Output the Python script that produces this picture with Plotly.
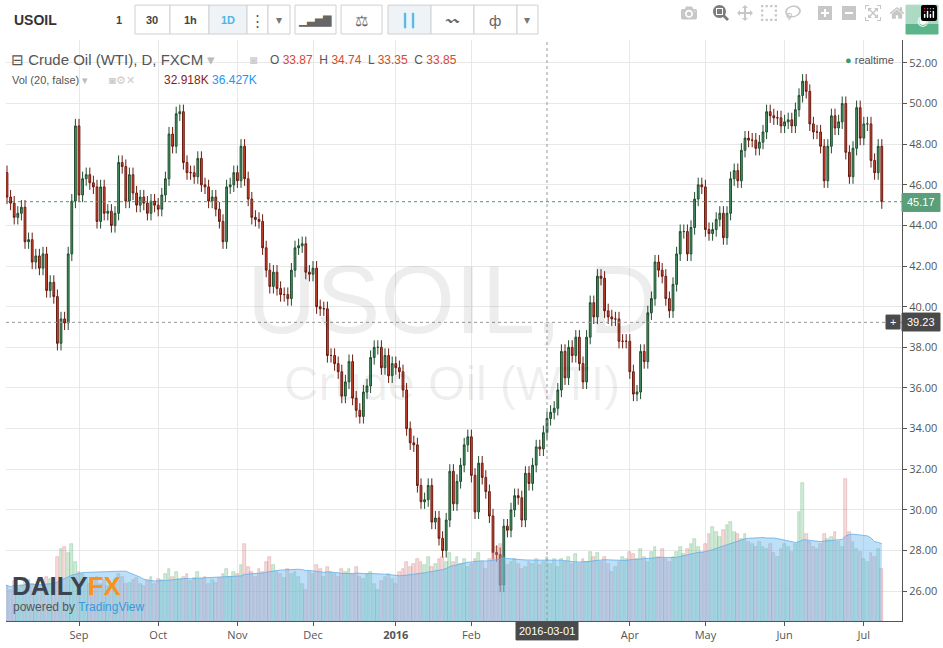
import pandas as pd
import plotly.graph_objects as go

closes = [
46.6,45.4,45.1,44.4,44.6, 44.9,43.2,43.3,42.2,42.5, 41.9,42.6,40.8,41.2,40.5, 38.2,39.4,39.2,42.6,45.2,
48.9,45.5,46.3,46.5,46.1, 45.9,44.2,45.9,44.6,44.7, 44.0,44.6,47.1,46.9,45.2, 46.5,45.6,45.0,45.4,45.1,
44.6,45.2,45.0,44.8,45.5, 46.3,48.5,47.9,49.5,49.6, 47.1,46.6,46.6,46.4,47.3, 46.0,45.9,45.2,45.4,44.8,
44.2,43.2,45.9,46.0,46.6, 46.2,47.9,46.3,45.3,44.4, 44.3,44.2,42.9,41.8,41.0, 41.7,40.9,40.6,40.6,40.4,
41.8,42.9,43.0,43.1,41.7, 41.6,41.9,40.0,39.9,39.9, 37.6,37.6,37.2,36.8,35.6, 36.3,37.3,35.5,34.9,34.6,
35.8,36.1,37.5,38.0,38.0, 37.0,37.6,36.6,37.2,37.0, 36.8,35.9,34.0,33.3,33.2, 31.2,30.4,30.5,31.2,29.4,
29.6,28.6,28.0,29.5,31.9, 30.3,31.4,32.2,33.2,33.6, 31.7,29.9,32.3,31.6,30.9, 29.7,27.9,27.8,26.3,29.2,
29.0,30.0,30.7,30.6,29.5, 31.8,31.3,32.2,33.1,33.0, 33.8,34.5,34.8,35.0,35.9, 37.8,36.5,38.0,37.6,38.5,
37.2,36.3,38.5,40.2,39.5, 41.5,41.4,39.8,39.5,39.4, 39.4,38.3,38.3,38.3,36.8, 35.7,35.8,37.8,37.3,39.7,
40.4,42.2,41.8,41.5,40.4, 39.8,41.1,42.6,43.7,43.7, 42.6,43.9,45.3,46.0,45.9, 43.8,43.6,43.8,44.3,44.6,
43.4,44.6,46.3,46.7,46.2, 47.7,48.3,48.2,48.2,47.8, 48.1,48.6,49.6,49.4,49.3, 49.3,48.9,49.1,49.2,48.9,
49.7,50.4,51.1,50.6,49.0, 48.6,48.6,47.9,46.2,47.9, 49.4,48.8,49.1,50.0,47.6, 46.4,47.8,49.8,48.3,49.0,
49.0,47.2,46.6,47.9,45.17]
volumes = [
30,28,25,32,27, 29,35,33,30,26, 28,30,36,34,31, 52,58,60,55,62, 48,40,38,35,30, 32,36,30,33,28,
30,34,38,36,30, 31,33,35,30,28, 32,36,30,34,33, 38,42,36,40,34, 36,38,32,35,40, 34,36,30,33,31,
35,38,42,36,40, 38,45,62,44,40, 36,42,40,48,52, 45,40,38,35,42, 38,40,36,30,25, 40,38,45,42,36,
44,40,38,36,42, 40,42,38,44,36, 34,38,40,30,25, 32,36,38,34,30, 40,42,48,44,46, 50,48,45,52,44,
46,50,52,48,55, 48,52,46,50,44, 46,50,55,48,42, 50,56,60,62,52, 45,48,50,46,42, 44,48,46,50,45,
48,52,46,50,44, 50,48,52,46,54, 46,50,48,56,52, 55,48,52,46,40, 44,48,52,50,56, 54,50,58,52,48,
56,60,52,58,50, 48,52,56,60,54, 58,62,66,60,56, 62,70,76,72,68, 74,78,80,72,70, 66,70,64,62,60,
64,60,58,62,55, 52,58,62,60,56, 62,88,112,70,64, 60,58,62,70,66, 68,72,64,60,115, 72,64,58,56,50,
48,55,52,58,42]
n = len(closes)
dates = pd.bdate_range("2015-08-03", periods=n)
opens = [45.9] + closes[:-1]
wick = 0.35
highs = [max(o, c) + wick for o, c in zip(opens, closes)]
lows = [min(o, c) - wick for o, c in zip(opens, closes)]
idx = list(range(n))
vol_ma = pd.Series(volumes).rolling(20, min_periods=1).mean()

month_labels = ["Sep", "Oct", "Nov", "Dec", "<b>2016</b>", "Feb", "Apr", "May", "Jun", "Jul"]
month_ticks, month_text = [0], ["Aug"]
li = 0
for i in range(1, n):
    if dates[i].month != dates[i - 1].month:
        if dates[i].month == 3:
            mar_idx = i
            continue
        month_ticks.append(i); month_text.append(month_labels[li]); li += 1

L, R, T, B, W, H = 6, 902, 40, 623, 943, 648
ppb = 3.6
x0 = mar_idx - (547 - L) / ppb
x1 = x0 + (R - L) / ppb
def px(x): return (x - L) / (R - L)
def py(y): return (B - y) / (B - T)

fig = go.Figure()
up = [c >= o for o, c in zip(opens, closes)]
fig.add_trace(go.Bar(x=idx, y=volumes, yaxis="y2", width=0.8,
    marker=dict(color=["rgba(120,200,140,0.35)" if u else "rgba(230,150,150,0.35)" for u in up],
                line=dict(width=0.6, color=["rgba(90,170,110,0.5)" if u else "rgba(200,110,110,0.5)" for u in up])),
    showlegend=False, hoverinfo="skip"))
fig.add_trace(go.Scatter(x=idx, y=vol_ma, yaxis="y2", mode="lines", fill="tozeroy",
    line=dict(color="rgba(100,175,230,0.8)", width=1), fillcolor="rgba(110,185,240,0.45)", showlegend=False))
fig.add_trace(go.Candlestick(x=idx, open=opens, high=highs, low=lows, close=closes, whiskerwidth=0,
    increasing=dict(fillcolor="#4a9a6a", line=dict(color="#1f4d2e", width=1)),
    decreasing=dict(fillcolor="#d9482b", line=dict(color="#6b1a10", width=1)), showlegend=False))

fig.add_hline(y=45.17, line=dict(color="#4a9a6a", width=1, dash="dot"))
fig.add_hline(y=39.23, line=dict(color="#999", width=1, dash="dot"))
fig.add_vline(x=mar_idx, line=dict(color="#999", width=1, dash="dot"))

shapes, ann = [], []
def box(xa, xb, ya, yb, fill="white", line="#d0d0d0"):
    shapes.append(dict(type="rect", xref="paper", yref="paper", x0=px(xa), x1=px(xb), y0=py(yb), y1=py(ya),
                       fillcolor=fill, line=dict(color=line, width=1), layer="above"))
def text(x, y, s, size=12, color="#333", xanchor="left", **kw):
    ann.append(dict(xref="paper", yref="paper", x=px(x), y=py(y), text=s, showarrow=False,
                    font=dict(size=size, color=color, family="Arial, Liberation Sans"), xanchor=xanchor, yanchor="middle", **kw))

# toolbar
shapes.append(dict(type="rect", xref="paper", yref="paper", x0=px(0), x1=px(W), y0=py(40), y1=py(0),
                   fillcolor="#f2f4f6", line=dict(width=0), layer="below"))
for a, b_, fill in [(5, 103, "white"), (103, 135, "white"), (135, 170, "white"), (170, 209, "white"),
                    (209, 247, "#eef3f7"), (247, 268, "white"), (268, 290, "white"), (295, 336, "white"),
                    (341, 382, "white"), (388, 431, "#eef3f7"), (431, 474, "white"), (474, 517, "white"), (517, 538, "white")]:
    box(a, b_, 5, 34, fill)
text(12, 20, "<b>USOIL</b>", 14, "#333")
for xc, s in [(119, "1"), (152, "30"), (190, "1h")]:
    text(xc, 20, "<b>%s</b>" % s, 11, "#444", "center")
text(228, 20, "<b>1D</b>", 11, "#4db6e8", "center")
text(257, 20, "⋮", 15, "#555", "center")
text(279, 20, "▾", 12, "#777", "center")
text(315, 20, "▁▃▅▇", 11, "#666", "center")
text(361, 20, "⚖", 15, "#666", "center")
text(409, 20, "┃┃", 13, "#4db6e8", "center")
text(452, 20, "〰", 13, "#666", "center")
text(495, 20, "ф", 15, "#666", "center")
text(527, 20, "▾", 12, "#777", "center")
box(906, 938, 5, 34, "#5cb58a", "#5cb58a")
text(922, 20, "◉", 13, "white", "center")

# legend
text(9, 60, "⊟ Crude Oil (WTI), D, FXCM <span style='color:#bbb'>▾</span>", 15, "#555")
text(268, 60, "O <span style='color:#d9482b'>33.87</span>  H <span style='color:#d9482b'>34.74</span>  L <span style='color:#d9482b'>33.35</span>  C <span style='color:#d9482b'>33.85</span>", 12, "#555")
text(253, 60, "◙", 12, "#ccc", "center")
text(10, 80, "Vol (20, false) <span style='color:#bbb'>▾</span>", 11, "#555")
text(107, 80, "◙⚙✕", 11, "#ccc")
text(162, 80, "<span style='color:#8b1a1a'>32.918K</span> <span style='color:#2196f3'>36.427K</span>", 12, "#555")
text(896, 60, "<span style='color:#3a9a6a'>●</span> realtime", 11, "#555", "right")

# watermark
text(452, 300, "USOIL, D", 96, "rgba(0,0,0,0.07)", "center")
text(452, 385, "Crude Oil (WTI)", 48, "rgba(0,0,0,0.07)", "center")

# price labels
box(902, 940, 194, 212, "#5b9e7a", "#5b9e7a")
text(921, 203, "45.17", 11, "white", "center")
box(902, 940, 314, 332, "#4a4a4a", "#4a4a4a")
text(921, 323, "39.23", 11, "white", "center")
box(886, 900, 316, 330, "#4a4a4a", "#4a4a4a")
text(893, 323, "+", 11, "white", "center")
box(516, 578, 624, 642, "#4a4a4a", "#4a4a4a")
text(547, 633, "2016-03-01", 11, "white", "center")

# logo
text(10, 588, "<b>DAILY</b><b><span style='color:#f7931e'>FX</span></b>", 26, "#3a4450")
text(11, 609, "powered by <span style='color:#3a9ad9'>TradingView</span>", 12, "#555")

fig.update_layout(
    width=W, height=H, margin=dict(l=L, r=W - R, t=T, b=H - B),
    paper_bgcolor="white", plot_bgcolor="white", shapes=shapes, annotations=ann,
    xaxis=dict(range=[x0, x1], tickvals=month_ticks, ticktext=month_text, showgrid=True, gridcolor="#e8e8e8",
               rangeslider=dict(visible=False), zeroline=False, showline=True, linecolor="#555",
               ticks="outside", ticklen=4, tickcolor="#555", tickfont=dict(size=11, color="#555")),
    yaxis=dict(range=[24.53, 53.13], side="right", dtick=2, tickformat=".2f", showgrid=True, gridcolor="#e8e8e8",
               zeroline=False, showline=True, linecolor="#555", ticks="outside", ticklen=4, tickcolor="#555",
               tickfont=dict(size=11, color="#555")),
    yaxis2=dict(range=[0, 470], overlaying="y", visible=False),
    bargap=0, hovermode=False,
)
fig.write_html("out.html", post_script="document.body.style.margin='0';document.body.style.overflow='hidden';")
